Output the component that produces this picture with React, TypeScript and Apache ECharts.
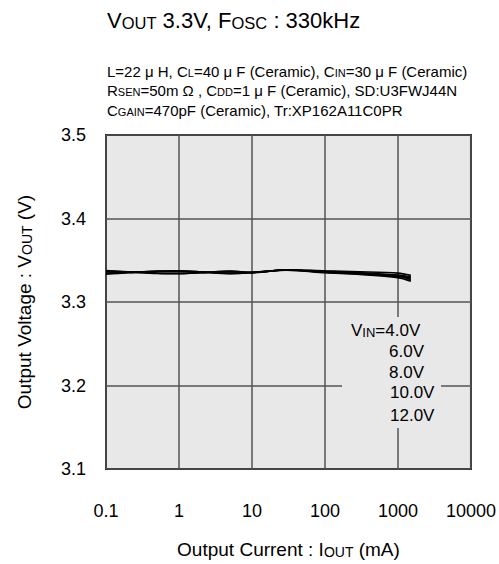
import React, { useEffect, useRef } from "react";
import * as echarts from "echarts";

const currents = [0.1, 0.2, 0.5, 1, 2, 5, 10, 30, 100, 300, 1000, 1500];
const vout4 = [3.3376, 3.3362, 3.3343, 3.3339, 3.3350, 3.3370, 3.3355, 3.3386, 3.3372, 3.3362, 3.3345, 3.3318];
const vout6 = [3.3336, 3.3350, 3.3371, 3.3374, 3.3362, 3.3340, 3.3350, 3.3383, 3.3356, 3.3336, 3.3306, 3.3286];
const vout8 = [3.3370, 3.3358, 3.3346, 3.3342, 3.3352, 3.3367, 3.3356, 3.3385, 3.3366, 3.3350, 3.3322, 3.3300];
const vout10 = [3.3340, 3.3353, 3.3368, 3.3370, 3.3360, 3.3344, 3.3352, 3.3383, 3.3360, 3.3342, 3.3312, 3.3268];
const vout12 = [3.3345, 3.3356, 3.3364, 3.3366, 3.3357, 3.3346, 3.3353, 3.3382, 3.3350, 3.3330, 3.3292, 3.3250];
const vinLabels = ["4.0V", "6.0V", "8.0V", "10.0V", "12.0V"];
const xTickLabels = ["0.1", "1", "10", "100", "1000", "10000"];
const yTickLabels = ["3.1", "3.2", "3.3", "3.4", "3.5"];

const FONT = "'Liberation Sans', Arial, sans-serif";

function richSet(big: number, small: number) {
  return {
    n: { fontSize: big, lineHeight: big, verticalAlign: "bottom", fontFamily: FONT, color: "#000" },
    s: { fontSize: small, lineHeight: small, verticalAlign: "bottom", fontFamily: FONT, color: "#000" },
  };
}

export default function App() {
  const ref = useRef<HTMLDivElement>(null);
  useEffect(() => {
    if (!ref.current) return;
    const chart = echarts.init(ref.current, undefined, { renderer: "svg" });
    const seriesData = [vout4, vout6, vout8, vout10, vout12];
    const series = seriesData.map((arr, i) => ({
      type: "line",
      name: vinLabels[i],
      data: currents.map((c, j) => [c, arr[j]]),
      showSymbol: false,
      smooth: 0.3,
      lineStyle: { color: "#000", width: 1.7 },
      z: 5,
    }));

    const condLines = [
      "{n|L=22 μ H, C}{s|L}{n|=40 μ F (Ceramic), C}{s|IN}{n|=30 μ F (Ceramic)}",
      "{n|R}{s|SEN}{n|=50m Ω , C}{s|DD}{n|=1 μ F (Ceramic), SD:U3FWJ44N}",
      "{n|C}{s|GAIN}{n|=470pF (Ceramic), Tr:XP162A11C0PR}",
    ];
    const condY = [71, 90, 110];

    const legendTexts = [
      { text: "{n|V}{s|IN}{n|=" + vinLabels[0] + "}", x: 351, y: 330 },
      { text: "{n|" + vinLabels[1] + "}", x: 389, y: 351 },
      { text: "{n|" + vinLabels[2] + "}", x: 389, y: 372 },
      { text: "{n|" + vinLabels[3] + "}", x: 390, y: 392 },
      { text: "{n|" + vinLabels[4] + "}", x: 390, y: 415 },
    ];

    const graphic: any[] = [
      {
        type: "text",
        x: 107,
        y: 20,
        style: {
          text: "{n|V}{s|OUT}{n| 3.3V, F}{s|OSC}{n| : 330kHz}",
          rich: richSet(22, 16.5),
          verticalAlign: "middle",
          align: "left",
          fontFamily: FONT,
        },
      },
      ...condLines.map((t, i) => ({
        type: "text",
        x: 107,
        y: condY[i],
        style: {
          text: t,
          rich: richSet(15, 11),
          verticalAlign: "middle",
          align: "left",
          fontFamily: FONT,
        },
      })),
      {
        type: "rect",
        shape: { x: 342, y: 317, width: 99, height: 111 },
        style: { fill: "#e8e8e8" },
        z: 10,
      },
      ...legendTexts.map((l) => ({
        type: "text",
        x: l.x,
        y: l.y,
        z: 11,
        style: {
          text: l.text,
          rich: richSet(17, 13),
          verticalAlign: "middle",
          align: "left",
          fontFamily: FONT,
        },
      })),
    ];

    chart.setOption({
      animation: false,
      backgroundColor: "#fff",
      grid: {
        left: 106,
        right: 25,
        top: 135,
        bottom: 89,
        containLabel: false,
        show: true,
        backgroundColor: "#e8e8e8",
        borderColor: "#1a1a1a",
        borderWidth: 2,
      },
      xAxis: {
        type: "log",
        logBase: 10,
        min: 0.1,
        max: 10000,
        axisLine: { show: false },
        axisTick: { show: false },
        splitLine: { show: true, lineStyle: { color: "#555", width: 1.5 } },
        axisLabel: {
          margin: 33,
          fontSize: 18,
          fontFamily: FONT,
          color: "#000",
          formatter: (v: number) => xTickLabels[Math.round(Math.log10(v)) + 1] ?? "",
        },
        name: "{n|Output Current : I}{s|OUT}{n| (mA)}",
        nameLocation: "middle",
        nameGap: 71,
        nameTextStyle: { rich: richSet(19, 14), fontFamily: FONT },
      },
      yAxis: {
        type: "value",
        min: 3.1,
        max: 3.5,
        interval: 0.1,
        axisLine: { show: false },
        axisTick: { show: false },
        splitLine: { show: true, lineStyle: { color: "#555", width: 1.5 } },
        axisLabel: {
          margin: 20,
          fontSize: 18,
          fontFamily: FONT,
          color: "#000",
          formatter: (v: number) => yTickLabels[Math.round((v - 3.1) * 10)] ?? "",
        },
        name: "{n|Output Voltage : V}{s|OUT}{n| (V)}",
        nameLocation: "middle",
        nameGap: 72,
        nameTextStyle: { rich: richSet(19, 14), fontFamily: FONT },
      },
      series,
      graphic,
    });
    return () => chart.dispose();
  }, []);
  return (
    <div
      ref={ref}
      style={{ position: "absolute", left: 0, top: 0, width: 499, height: 564 }}
    />
  );
}
